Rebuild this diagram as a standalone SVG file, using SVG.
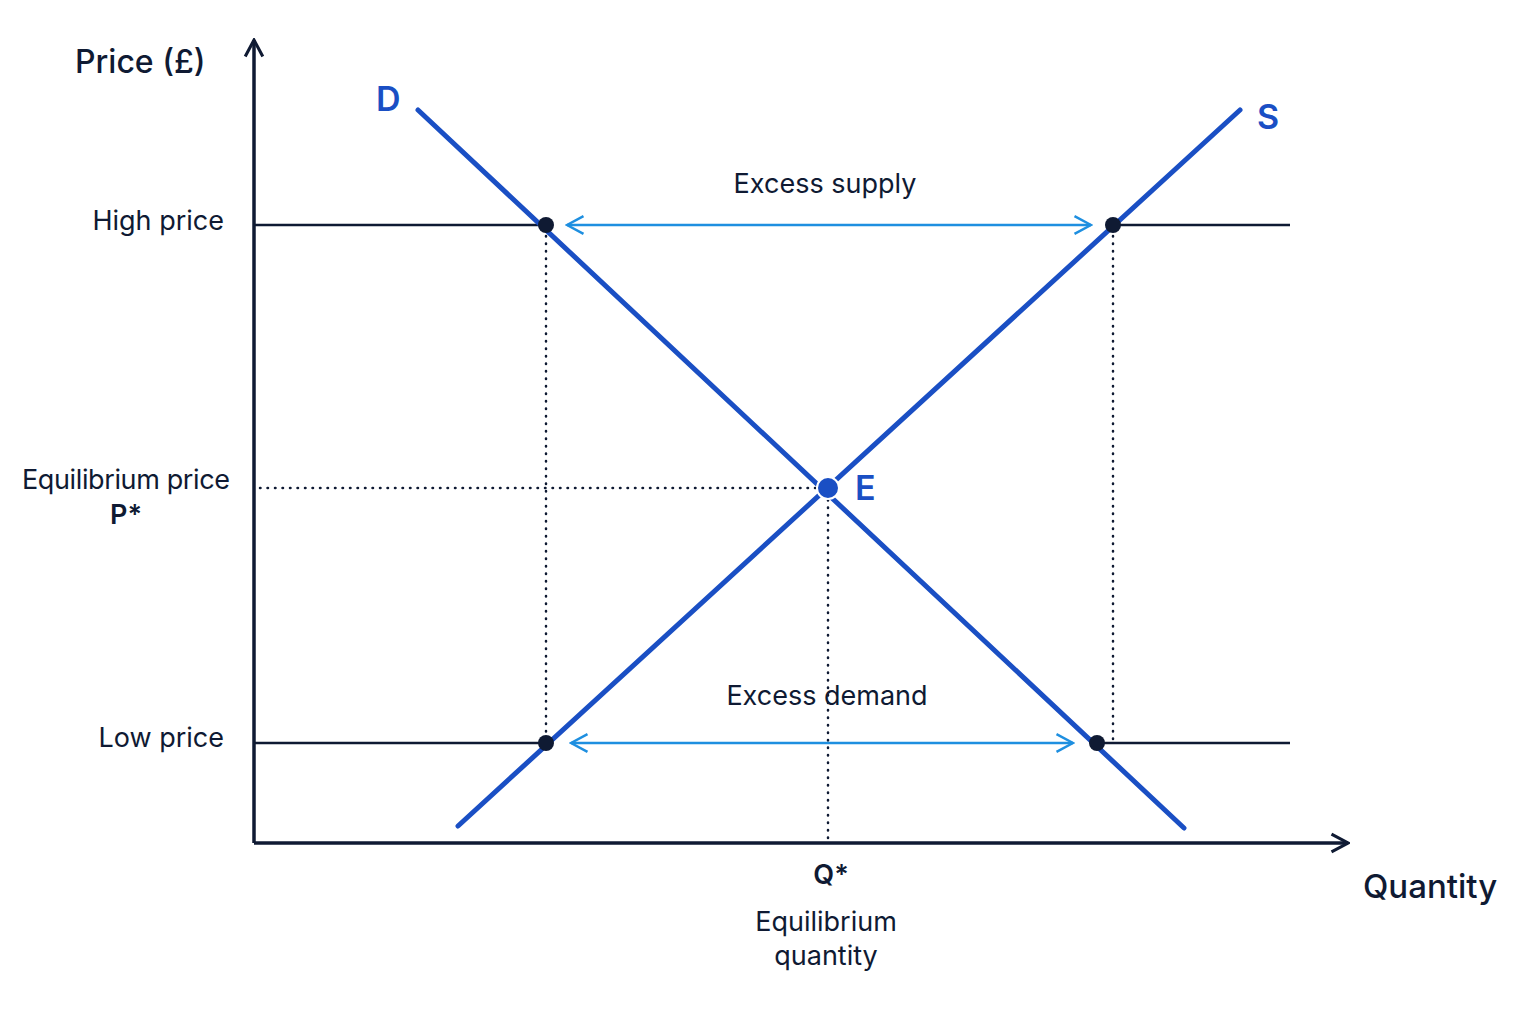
<svg xmlns="http://www.w3.org/2000/svg" width="1536" height="1024" viewBox="0 0 1536 1024">
<style>
text{font-family:Inter,"Noto Sans",sans-serif;fill:#0f1a33}
.ax{stroke:#0f1a33;stroke-width:3.5;fill:none}
.lv{stroke:#0f1a33;stroke-width:2.5}
.dot{stroke:#0f1a33;stroke-width:2.5;stroke-dasharray:0.5 7;stroke-linecap:round}
.cv{stroke:#1a4fc4;stroke-width:5;stroke-linecap:round}
.ar{stroke:#1e8fe0;stroke-width:2.5;marker-start:url(#a);marker-end:url(#a)}
.lb{font-size:27px}
.cl{font-size:34px;font-weight:600;fill:#1a4fc4}
</style>
<defs>
<marker id="a" viewBox="0 0 20 20" refX="18" refY="10" markerWidth="22" markerHeight="22" orient="auto-start-reverse" markerUnits="userSpaceOnUse"><path d="M3 2L18 10L3 18" fill="none" stroke="#1e8fe0" stroke-width="2.3"/></marker>
<marker id="k" viewBox="0 0 20 20" refX="18" refY="10" markerWidth="22" markerHeight="22" orient="auto" markerUnits="userSpaceOnUse"><path d="M3 2L18 10L3 18" fill="none" stroke="#0f1a33" stroke-width="2.8"/></marker>
</defs>
<rect width="1536" height="1024" fill="#fff"/>
<g id="connectors">
<line class="lv" x1="254" y1="225" x2="546" y2="225"/>
<line class="lv" x1="1113" y1="225" x2="1290" y2="225"/>
<line class="lv" x1="254" y1="743" x2="546" y2="743"/>
<line class="lv" x1="1097" y1="743" x2="1290" y2="743"/>
<line class="dot" x1="546" y1="236" x2="546" y2="740"/>
<line class="dot" x1="1113" y1="236" x2="1113" y2="740"/>
<line class="dot" x1="828" y1="500" x2="828" y2="840"/>
<line class="dot" x1="260" y1="488" x2="818" y2="488"/>
<line class="cv" x1="418" y1="110" x2="1184" y2="828"/>
<line class="cv" x1="458" y1="826" x2="1240" y2="110"/>
<line class="ar" x1="567" y1="225" x2="1091" y2="225"/>
<line class="ar" x1="571" y1="743" x2="1073" y2="743"/>
</g>
<g id="axes">
<path class="ax" d="M254 843V40" marker-end="url(#k)"/>
<path class="ax" d="M254 843H1348" marker-end="url(#k)"/>
</g>
<g id="points">
<circle cx="546" cy="225" r="8" fill="#0f1a33"/>
<circle cx="1113" cy="225" r="8" fill="#0f1a33"/>
<circle cx="546" cy="743" r="8" fill="#0f1a33"/>
<circle cx="1097" cy="743" r="8" fill="#0f1a33"/>
<circle id="E" cx="828" cy="488" r="11" fill="#1a4fc4" stroke="#fff" stroke-width="2"/>
</g>
<g id="labels">
<text x="75" y="73" font-size="32" font-weight="500">Price (£)</text>
<text x="1363" y="898" font-size="33" font-weight="500">Quantity</text>
<text class="cl" x="376" y="111">D</text>
<text class="cl" x="1257" y="129">S</text>
<text class="cl" x="855" y="500">E</text>
<text class="lb" x="224" y="230" text-anchor="end">High price</text>
<text class="lb" x="224" y="747" text-anchor="end">Low price</text>
<text class="lb" x="126" y="489" text-anchor="middle" textLength="208">Equilibrium price</text>
<text class="lb" x="126" y="524" text-anchor="middle" font-weight="600">P*</text>
<text class="lb" x="825" y="193" text-anchor="middle">Excess supply</text>
<text class="lb" x="827" y="705" text-anchor="middle">Excess demand</text>
<text class="lb" x="831" y="884" text-anchor="middle" font-weight="600">Q*</text>
<text class="lb" x="826" y="931" text-anchor="middle">Equilibrium</text>
<text class="lb" x="826" y="965" text-anchor="middle">quantity</text>
</g>
</svg>
